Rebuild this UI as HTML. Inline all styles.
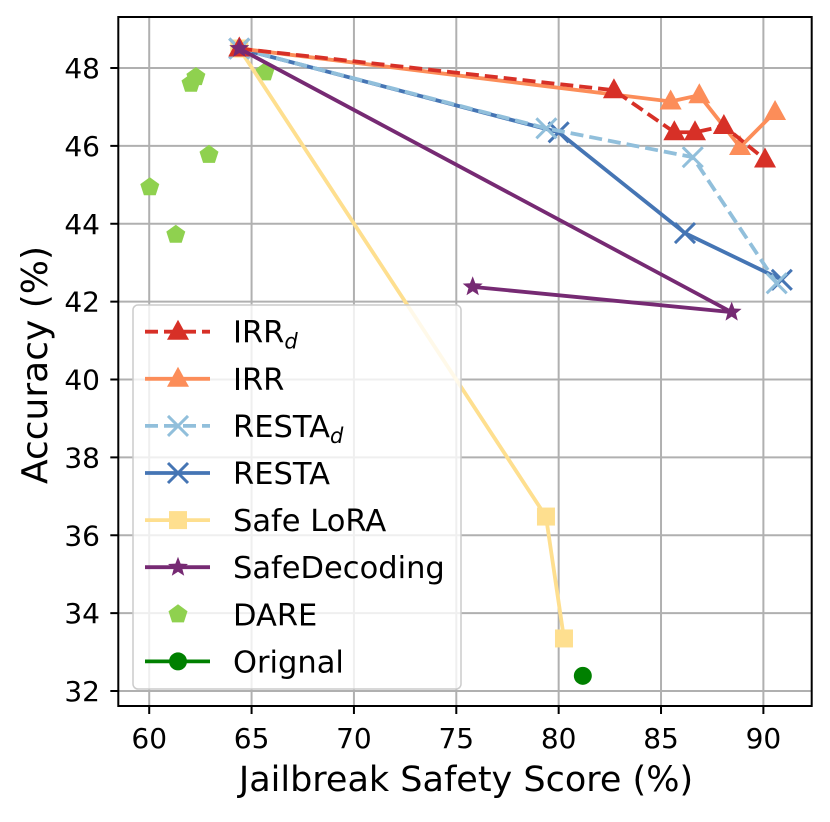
<!DOCTYPE html>
<html><head><meta charset="utf-8"><style>
body{margin:0;background:#fff}
svg{font-family:"DejaVu Sans","Liberation Sans",sans-serif}
</style></head><body>
<svg id="chart" width="830" height="817" xmlns="http://www.w3.org/2000/svg"></svg>
<script>
const xTicks=[60,65,70,75,80,85,90];
const yTicks=[32,34,36,38,40,42,44,46,48];
const irrdX=[64.4,82.7,85.65,86.66,88.07,90.08];
const irrdY=[48.5,47.43,46.35,46.35,46.51,45.65];
const irrX=[64.4,85.47,86.87,88.86,90.57];
const irrY=[48.5,47.14,47.3,45.97,46.87];
const restadX=[64.4,79.4,86.55,90.65];
const restadY=[48.5,46.45,45.71,42.47];
const restaX=[64.4,80.0,86.17,90.9];
const restaY=[48.5,46.35,43.76,42.56];
const loraX=[64.4,79.38,80.26];
const loraY=[48.5,36.48,33.35];
const sdX=[64.4,88.45,75.8];
const sdY=[48.5,41.73,42.38];
const dareX=[62.28,62.04,65.65,62.92,60.03,61.3];
const dareY=[47.77,47.6,47.89,45.77,44.94,43.72];
const origX=[81.18];
const origY=[32.39];

const NS="http://www.w3.org/2000/svg";
const svg=document.getElementById('chart');
const L=118.3,R=811.7,T=17,B=706;
const xmin=58.49,xmax=92.36,ymin=31.615,ymax=49.31;
const sx=v=>L+(v-xmin)/(xmax-xmin)*(R-L);
const sy=v=>B-(v-ymin)/(ymax-ymin)*(B-T);
function el(tag,attrs,parent){const e=document.createElementNS(NS,tag);for(const k in attrs)e.setAttribute(k,attrs[k]);(parent||svg).appendChild(e);return e;}

const grid=el('g',{});


xTicks.forEach(t=>{el('line',{x1:sx(t),x2:sx(t),y1:T,y2:B,stroke:'#b0b0b0','stroke-width':2},grid);});
yTicks.forEach(t=>{el('line',{x1:L,x2:R,y1:sy(t),y2:sy(t),stroke:'#b0b0b0','stroke-width':2},grid);});

const xax=el('g',{});


xTicks.forEach(t=>{el('line',{x1:sx(t),x2:sx(t),y1:B,y2:B+8,stroke:'#000','stroke-width':2},xax);
 const tx=el('text',{x:sx(t),y:748,'text-anchor':'middle','font-size':28},xax);tx.textContent=t;});
const yax=el('g',{});


yTicks.forEach(t=>{el('line',{x1:L-8,x2:L,y1:sy(t),y2:sy(t),stroke:'#000','stroke-width':2},yax);
 const tx=el('text',{x:100,y:sy(t)+10,'text-anchor':'end','font-size':28},yax);tx.textContent=t;});

function tri(g,x,y,c){el('polygon',{points:`${x},${y-12} ${x-11},${y+8} ${x+11},${y+8}`,fill:c},g);}
function cross(g,x,y,c){el('path',{d:`M${x-10},${y-10}L${x+10},${y+10}M${x-10},${y+10}L${x+10},${y-10}`,stroke:c,'stroke-width':3},g);}
function sq(g,x,y,c){el('rect',{x:x-9,y:y-9,width:18,height:18,fill:c},g);}
function star(g,x,y,c){let p=[];for(let i=0;i<10;i++){const r=i%2?4.5:10.5,a=-Math.PI/2+i*Math.PI/5;p.push((x+r*Math.cos(a)).toFixed(1)+','+(y+r*Math.sin(a)).toFixed(1));}el('polygon',{points:p.join(' '),fill:c},g);}
function pent(g,x,y,c){let p=[];for(let i=0;i<5;i++){const a=-Math.PI/2+i*2*Math.PI/5;p.push((x+10*Math.cos(a)).toFixed(1)+','+(y+10*Math.sin(a)).toFixed(1));}el('polygon',{points:p.join(' '),fill:c},g);}
function circ(g,x,y,c){el('circle',{cx:x,cy:y,r:9,fill:c},g);}

function series(name,xs,ys,c,dash,marker,line){
 const g=el('g',{});
 
 
 if(line){el('polyline',{points:xs.map((v,i)=>sx(v)+','+sy(ys[i])).join(' '),fill:'none',stroke:c,'stroke-width':3.8,'stroke-dasharray':dash||'none'},g);}
 xs.forEach((v,i)=>marker(g,sx(v),sy(ys[i]),c));
}
series('dare-series',dareX,dareY,'#8fd14f',null,pent,false);
series('safe-lora-series',loraX,loraY,'#fedf8f',null,sq,true);
series('resta-series',restaX,restaY,'#4575b4',null,cross,true);
series('resta-d-series',restadX,restadY,'#91bfdb','13,6',cross,true);
series('irr-series',irrX,irrY,'#fc8d59',null,tri,true);
series('irr-d-series',irrdX,irrdY,'#d73027','13,6',tri,true);
series('safedecoding-series',sdX,sdY,'#762a73',null,star,true);
series('original-series',origX,origY,'#008000',null,circ,false);

el('rect',{x:L,y:T,width:R-L,height:B-T,fill:'none',stroke:'#000','stroke-width':2});

const lg=el('g',{});


el('rect',{x:133,y:305,width:328,height:384,rx:5,fill:'rgba(255,255,255,0.8)',stroke:'#ccc','stroke-width':1.5},lg);
const legNames=['IRR','IRR','RESTA','RESTA','Safe LoRA','SafeDecoding','DARE','Orignal'];
const legSub=['d','','d','','','','',''];
const legCol=['#d73027','#fc8d59','#91bfdb','#4575b4','#fedf8f','#762a73','#8fd14f','#008000'];
const legDash=['13,6',null,'13,6',null,null,null,null,null];
const legMk=[tri,tri,cross,cross,sq,star,pent,circ];
const legLine=[1,1,1,1,1,1,0,1];
legNames.forEach((n,i)=>{
 const y=331.7+i*47.1;
 const g=el('g',{},lg);
 
 
 if(legLine[i])el('line',{x1:145,x2:210,y1:y,y2:y,stroke:legCol[i],'stroke-width':3.8,'stroke-dasharray':legDash[i]||'none'},g);
 legMk[i](g,178,y,legCol[i]);
 const t=el('text',{x:233,y:y+11,'font-size':30.5},g);
 t.textContent=n;
 if(legSub[i]){const s=el('tspan',{'font-size':21,'font-style':'italic',dy:6},t);s.textContent=legSub[i];}
});

const xt=el('text',{x:466,y:791,'text-anchor':'middle','font-size':35});


xt.textContent='Jailbreak Safety Score (%)';
const yt=el('text',{x:0,y:0,'text-anchor':'middle','font-size':36,transform:`translate(47,365) rotate(-90)`});


yt.textContent='Accuracy (%)';
</script>
</body></html>
